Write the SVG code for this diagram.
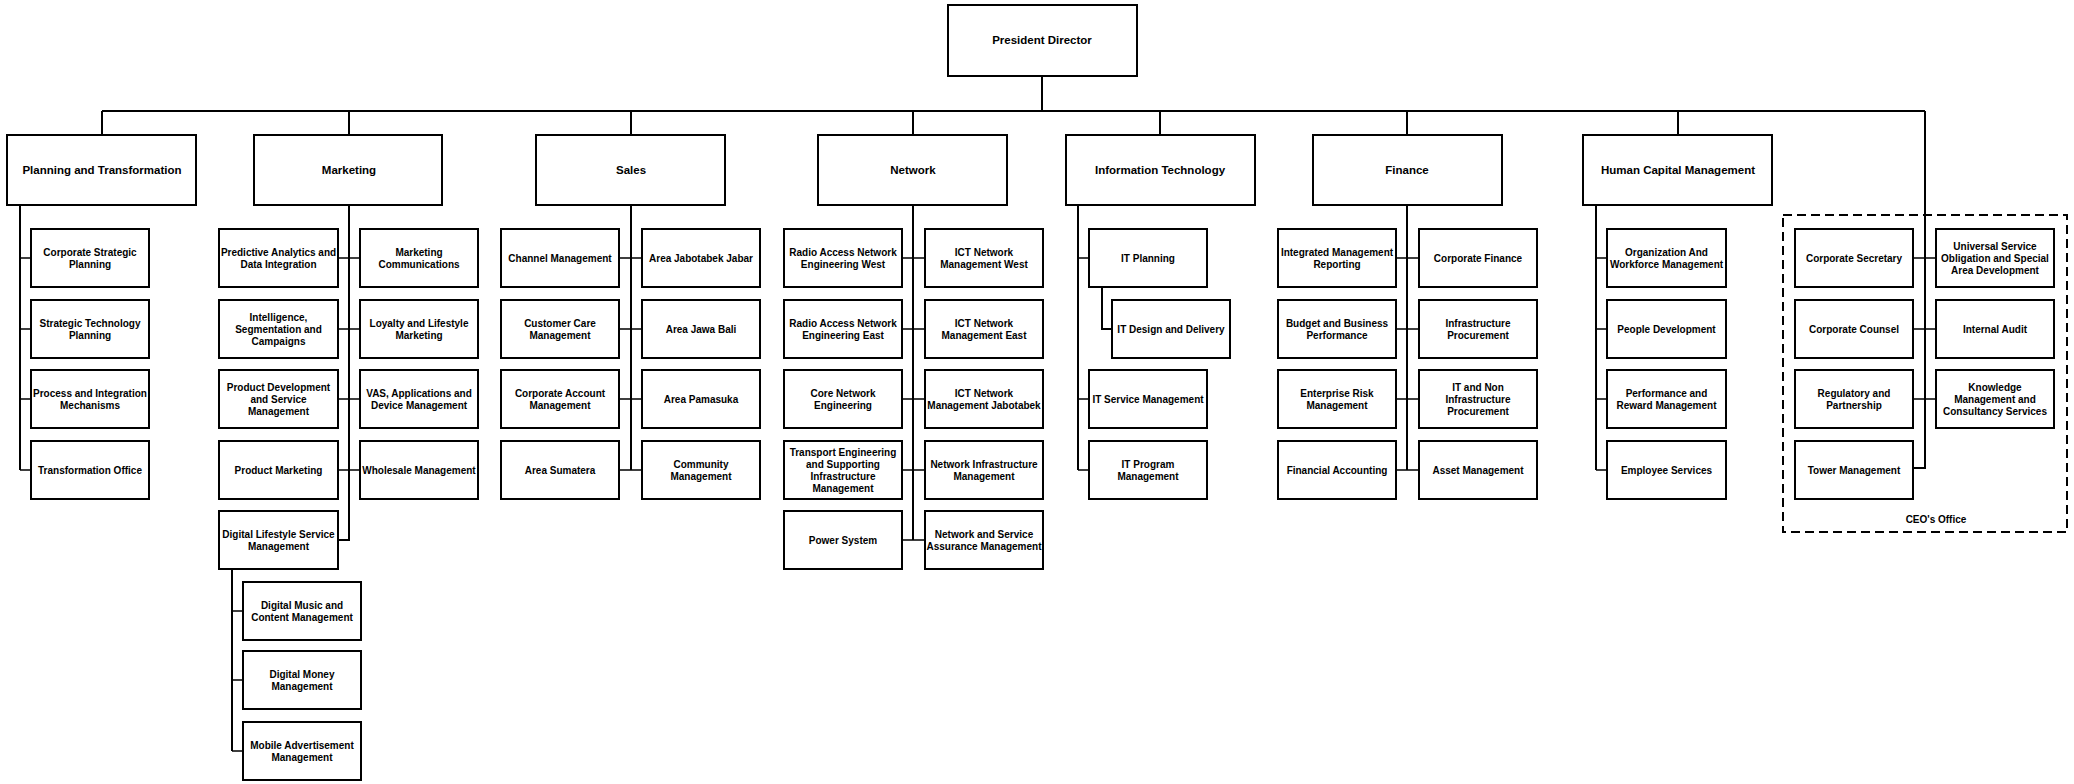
<svg xmlns="http://www.w3.org/2000/svg" width="2074" height="784" viewBox="0 0 2074 784">
<style>
.box{fill:#fff;stroke:#000;stroke-width:2}
.hd{font-family:"Liberation Sans",Arial,sans-serif;font-weight:bold;font-size:11.5px;text-anchor:middle;fill:#000}
.t{font-family:"Liberation Sans",Arial,sans-serif;font-weight:bold;font-size:10px;text-anchor:middle;fill:#000}
.ln{fill:none;stroke:#000;stroke-width:2}
.tk{fill:none;stroke:#000;stroke-width:1.5}
.dash{fill:none;stroke:#000;stroke-width:2;stroke-dasharray:9 5}
</style>
<rect width="2074" height="784" fill="#fff"/>

<g id="connectors">
<path class="ln" d="M1042,76V111M102,111H1925M102,111V135M349,111V135M631,111V135M913,111V135M1160,111V135M1407,111V135M1678,111V135"/>
<path class="ln" d="M1925,111V468H1913"/>
<path class="tk" d="M1913,258H1936M1913,329H1936M1913,399H1936"/>
<path class="ln" d="M20,205V470"/>
<path class="tk" d="M20,258H31M20,329H31M20,399H31M20,470H31"/>
<path class="ln" d="M349,205V540H338"/>
<path class="tk" d="M338,258H360M338,329H360M338,399H360M338,470H360"/>
<path class="ln" d="M232,569V751"/>
<path class="tk" d="M232,611H243M232,680H243M232,751H243"/>
<path class="ln" d="M631,205V470"/>
<path class="tk" d="M619,258H642M619,329H642M619,399H642M619,470H642"/>
<path class="ln" d="M913,205V540"/>
<path class="tk" d="M902,258H925M902,329H925M902,399H925M902,470H925M902,540H925"/>
<path class="ln" d="M1078,205V470"/>
<path class="tk" d="M1078,258H1089M1078,399H1089M1078,470H1089"/>
<path class="ln" d="M1102,287V329H1112"/>
<path class="ln" d="M1407,205V470"/>
<path class="tk" d="M1396,258H1419M1396,329H1419M1396,399H1419M1396,470H1419"/>
<path class="ln" d="M1596,205V470"/>
<path class="tk" d="M1596,258H1607M1596,329H1607M1596,399H1607M1596,470H1607"/>
</g>

<g id="ceo-office">
<rect class="dash" x="1783" y="215" width="284" height="317"/>
<text class="t" x="1936" y="522.5">CEO's Office</text>
</g>

<g id="president"><rect class="box" x="948" y="5" width="189" height="71"/><text class="hd" x="1042" y="44">President Director</text></g>

<g id="planning"><rect class="box" x="7" y="135" width="189" height="70"/><text class="hd" x="102" y="174">Planning and Transformation</text></g>
<g id="marketing"><rect class="box" x="254" y="135" width="188" height="70"/><text class="hd" x="349" y="174">Marketing</text></g>
<g id="sales"><rect class="box" x="536" y="135" width="189" height="70"/><text class="hd" x="631" y="174">Sales</text></g>
<g id="network"><rect class="box" x="818" y="135" width="189" height="70"/><text class="hd" x="913" y="174">Network</text></g>
<g id="it"><rect class="box" x="1066" y="135" width="189" height="70"/><text class="hd" x="1160" y="174">Information Technology</text></g>
<g id="finance"><rect class="box" x="1313" y="135" width="189" height="70"/><text class="hd" x="1407" y="174">Finance</text></g>
<g id="hcm"><rect class="box" x="1583" y="135" width="189" height="70"/><text class="hd" x="1678" y="174">Human Capital Management</text></g>

<!-- Planning children -->
<g id="pt1"><rect class="box" x="31" y="229" width="118" height="58"/><text class="t"><tspan x="90" y="255.5">Corporate Strategic</tspan><tspan x="90" y="267.5">Planning</tspan></text></g>
<g id="pt2"><rect class="box" x="31" y="300" width="118" height="58"/><text class="t"><tspan x="90" y="326.5">Strategic Technology</tspan><tspan x="90" y="338.5">Planning</tspan></text></g>
<g id="pt3"><rect class="box" x="31" y="370" width="118" height="58"/><text class="t"><tspan x="90" y="396.5">Process and Integration</tspan><tspan x="90" y="408.5">Mechanisms</tspan></text></g>
<g id="pt4"><rect class="box" x="31" y="441" width="118" height="58"/><text class="t" x="90" y="473.5">Transformation Office</text></g>

<!-- Marketing children -->
<g id="mk1"><rect class="box" x="219" y="229" width="119" height="58"/><text class="t"><tspan x="278.5" y="255.5">Predictive Analytics and</tspan><tspan x="278.5" y="267.5">Data Integration</tspan></text></g>
<g id="mk2"><rect class="box" x="219" y="300" width="119" height="58"/><text class="t"><tspan x="278.5" y="320.5">Intelligence,</tspan><tspan x="278.5" y="332.5">Segmentation and</tspan><tspan x="278.5" y="344.5">Campaigns</tspan></text></g>
<g id="mk3"><rect class="box" x="219" y="370" width="119" height="58"/><text class="t"><tspan x="278.5" y="390.5">Product Development</tspan><tspan x="278.5" y="402.5">and Service</tspan><tspan x="278.5" y="414.5">Management</tspan></text></g>
<g id="mk4"><rect class="box" x="219" y="441" width="119" height="58"/><text class="t" x="278.5" y="473.5">Product Marketing</text></g>
<g id="mk5"><rect class="box" x="219" y="511" width="119" height="58"/><text class="t"><tspan x="278.5" y="537.5">Digital Lifestyle Service</tspan><tspan x="278.5" y="549.5">Management</tspan></text></g>
<g id="mk6"><rect class="box" x="360" y="229" width="118" height="58"/><text class="t"><tspan x="419" y="255.5">Marketing</tspan><tspan x="419" y="267.5">Communications</tspan></text></g>
<g id="mk7"><rect class="box" x="360" y="300" width="118" height="58"/><text class="t"><tspan x="419" y="326.5">Loyalty and Lifestyle</tspan><tspan x="419" y="338.5">Marketing</tspan></text></g>
<g id="mk8"><rect class="box" x="360" y="370" width="118" height="58"/><text class="t"><tspan x="419" y="396.5">VAS, Applications and</tspan><tspan x="419" y="408.5">Device Management</tspan></text></g>
<g id="mk9"><rect class="box" x="360" y="441" width="118" height="58"/><text class="t" x="419" y="473.5">Wholesale Management</text></g>
<g id="dl1"><rect class="box" x="243" y="582" width="118" height="58"/><text class="t"><tspan x="302" y="608.5">Digital Music and</tspan><tspan x="302" y="620.5">Content Management</tspan></text></g>
<g id="dl2"><rect class="box" x="243" y="651" width="118" height="58"/><text class="t"><tspan x="302" y="677.5">Digital Money</tspan><tspan x="302" y="689.5">Management</tspan></text></g>
<g id="dl3"><rect class="box" x="243" y="722" width="118" height="58"/><text class="t"><tspan x="302" y="748.5">Mobile Advertisement</tspan><tspan x="302" y="760.5">Management</tspan></text></g>

<!-- Sales children -->
<g id="sl1"><rect class="box" x="501" y="229" width="118" height="58"/><text class="t" x="560" y="261.5">Channel Management</text></g>
<g id="sl2"><rect class="box" x="501" y="300" width="118" height="58"/><text class="t"><tspan x="560" y="326.5">Customer Care</tspan><tspan x="560" y="338.5">Management</tspan></text></g>
<g id="sl3"><rect class="box" x="501" y="370" width="118" height="58"/><text class="t"><tspan x="560" y="396.5">Corporate Account</tspan><tspan x="560" y="408.5">Management</tspan></text></g>
<g id="sl4"><rect class="box" x="501" y="441" width="118" height="58"/><text class="t" x="560" y="473.5">Area Sumatera</text></g>
<g id="sl5"><rect class="box" x="642" y="229" width="118" height="58"/><text class="t" x="701" y="261.5">Area Jabotabek Jabar</text></g>
<g id="sl6"><rect class="box" x="642" y="300" width="118" height="58"/><text class="t" x="701" y="332.5">Area Jawa Bali</text></g>
<g id="sl7"><rect class="box" x="642" y="370" width="118" height="58"/><text class="t" x="701" y="402.5">Area Pamasuka</text></g>
<g id="sl8"><rect class="box" x="642" y="441" width="118" height="58"/><text class="t"><tspan x="701" y="467.5">Community</tspan><tspan x="701" y="479.5">Management</tspan></text></g>

<!-- Network children -->
<g id="nw1"><rect class="box" x="784" y="229" width="118" height="58"/><text class="t"><tspan x="843" y="255.5">Radio Access Network</tspan><tspan x="843" y="267.5">Engineering West</tspan></text></g>
<g id="nw2"><rect class="box" x="784" y="300" width="118" height="58"/><text class="t"><tspan x="843" y="326.5">Radio Access Network</tspan><tspan x="843" y="338.5">Engineering East</tspan></text></g>
<g id="nw3"><rect class="box" x="784" y="370" width="118" height="58"/><text class="t"><tspan x="843" y="396.5">Core Network</tspan><tspan x="843" y="408.5">Engineering</tspan></text></g>
<g id="nw4"><rect class="box" x="784" y="441" width="118" height="58"/><text class="t"><tspan x="843" y="455.5">Transport Engineering</tspan><tspan x="843" y="467.5">and Supporting</tspan><tspan x="843" y="479.5">Infrastructure</tspan><tspan x="843" y="491.5">Management</tspan></text></g>
<g id="nw5"><rect class="box" x="784" y="511" width="118" height="58"/><text class="t" x="843" y="543.5">Power System</text></g>
<g id="nw6"><rect class="box" x="925" y="229" width="118" height="58"/><text class="t"><tspan x="984" y="255.5">ICT Network</tspan><tspan x="984" y="267.5">Management West</tspan></text></g>
<g id="nw7"><rect class="box" x="925" y="300" width="118" height="58"/><text class="t"><tspan x="984" y="326.5">ICT Network</tspan><tspan x="984" y="338.5">Management East</tspan></text></g>
<g id="nw8"><rect class="box" x="925" y="370" width="118" height="58"/><text class="t"><tspan x="984" y="396.5">ICT Network</tspan><tspan x="984" y="408.5">Management Jabotabek</tspan></text></g>
<g id="nw9"><rect class="box" x="925" y="441" width="118" height="58"/><text class="t"><tspan x="984" y="467.5">Network Infrastructure</tspan><tspan x="984" y="479.5">Management</tspan></text></g>
<g id="nw10"><rect class="box" x="925" y="511" width="118" height="58"/><text class="t"><tspan x="984" y="537.5">Network and Service</tspan><tspan x="984" y="549.5">Assurance Management</tspan></text></g>

<!-- IT children -->
<g id="it1"><rect class="box" x="1089" y="229" width="118" height="58"/><text class="t" x="1148" y="261.5">IT Planning</text></g>
<g id="it2"><rect class="box" x="1112" y="300" width="118" height="58"/><text class="t" x="1171" y="332.5">IT Design and Delivery</text></g>
<g id="it3"><rect class="box" x="1089" y="370" width="118" height="58"/><text class="t" x="1148" y="402.5">IT Service Management</text></g>
<g id="it4"><rect class="box" x="1089" y="441" width="118" height="58"/><text class="t"><tspan x="1148" y="467.5">IT Program</tspan><tspan x="1148" y="479.5">Management</tspan></text></g>

<!-- Finance children -->
<g id="fn1"><rect class="box" x="1278" y="229" width="118" height="58"/><text class="t"><tspan x="1337" y="255.5">Integrated Management</tspan><tspan x="1337" y="267.5">Reporting</tspan></text></g>
<g id="fn2"><rect class="box" x="1278" y="300" width="118" height="58"/><text class="t"><tspan x="1337" y="326.5">Budget and Business</tspan><tspan x="1337" y="338.5">Performance</tspan></text></g>
<g id="fn3"><rect class="box" x="1278" y="370" width="118" height="58"/><text class="t"><tspan x="1337" y="396.5">Enterprise Risk</tspan><tspan x="1337" y="408.5">Management</tspan></text></g>
<g id="fn4"><rect class="box" x="1278" y="441" width="118" height="58"/><text class="t" x="1337" y="473.5">Financial Accounting</text></g>
<g id="fn5"><rect class="box" x="1419" y="229" width="118" height="58"/><text class="t" x="1478" y="261.5">Corporate Finance</text></g>
<g id="fn6"><rect class="box" x="1419" y="300" width="118" height="58"/><text class="t"><tspan x="1478" y="326.5">Infrastructure</tspan><tspan x="1478" y="338.5">Procurement</tspan></text></g>
<g id="fn7"><rect class="box" x="1419" y="370" width="118" height="58"/><text class="t"><tspan x="1478" y="390.5">IT and Non</tspan><tspan x="1478" y="402.5">Infrastructure</tspan><tspan x="1478" y="414.5">Procurement</tspan></text></g>
<g id="fn8"><rect class="box" x="1419" y="441" width="118" height="58"/><text class="t" x="1478" y="473.5">Asset Management</text></g>

<!-- HCM children -->
<g id="hc1"><rect class="box" x="1607" y="229" width="119" height="58"/><text class="t"><tspan x="1666.5" y="255.5">Organization And</tspan><tspan x="1666.5" y="267.5">Workforce Management</tspan></text></g>
<g id="hc2"><rect class="box" x="1607" y="300" width="119" height="58"/><text class="t" x="1666.5" y="332.5">People Development</text></g>
<g id="hc3"><rect class="box" x="1607" y="370" width="119" height="58"/><text class="t"><tspan x="1666.5" y="396.5">Performance and</tspan><tspan x="1666.5" y="408.5">Reward Management</tspan></text></g>
<g id="hc4"><rect class="box" x="1607" y="441" width="119" height="58"/><text class="t" x="1666.5" y="473.5">Employee Services</text></g>

<!-- CEO office children -->
<g id="ce1"><rect class="box" x="1795" y="229" width="118" height="58"/><text class="t" x="1854" y="261.5">Corporate Secretary</text></g>
<g id="ce2"><rect class="box" x="1795" y="300" width="118" height="58"/><text class="t" x="1854" y="332.5">Corporate Counsel</text></g>
<g id="ce3"><rect class="box" x="1795" y="370" width="118" height="58"/><text class="t"><tspan x="1854" y="396.5">Regulatory and</tspan><tspan x="1854" y="408.5">Partnership</tspan></text></g>
<g id="ce4"><rect class="box" x="1795" y="441" width="118" height="58"/><text class="t" x="1854" y="473.5">Tower Management</text></g>
<g id="ce5"><rect class="box" x="1936" y="229" width="118" height="58"/><text class="t"><tspan x="1995" y="249.5">Universal Service</tspan><tspan x="1995" y="261.5">Obligation and Special</tspan><tspan x="1995" y="273.5">Area Development</tspan></text></g>
<g id="ce6"><rect class="box" x="1936" y="300" width="118" height="58"/><text class="t" x="1995" y="332.5">Internal Audit</text></g>
<g id="ce7"><rect class="box" x="1936" y="370" width="118" height="58"/><text class="t"><tspan x="1995" y="390.5">Knowledge</tspan><tspan x="1995" y="402.5">Management and</tspan><tspan x="1995" y="414.5">Consultancy Services</tspan></text></g>
</svg>
